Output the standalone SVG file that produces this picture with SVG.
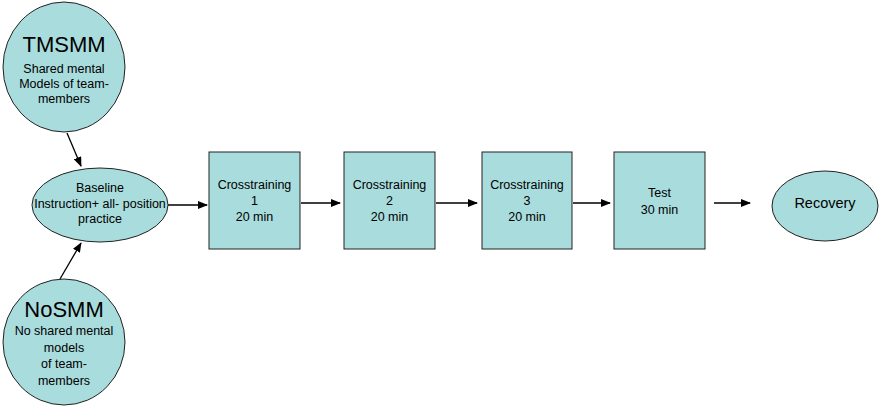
<svg xmlns="http://www.w3.org/2000/svg" width="879" height="406" viewBox="0 0 879 406">
<defs>
<marker id="ah" markerWidth="10" markerHeight="8" refX="9" refY="4" orient="auto" markerUnits="userSpaceOnUse">
<path d="M0,0 L10,4 L0,8 Z" fill="#000"/>
</marker>
<style>
.n{fill:#a9dcdc;stroke:#222;stroke-width:1}
.t{font-family:"Liberation Sans",Arial,sans-serif;font-size:12.5px;fill:#000;text-anchor:middle}
.big{font-size:22px}
.rec{font-size:14.5px}
.c{stroke:#000;stroke-width:1.3;fill:none;marker-end:url(#ah)}
</style>
</defs>
<rect width="879" height="406" fill="#fff"/>
<g id="connectors">
<line class="c" x1="67" y1="133" x2="81" y2="166"/>
<line class="c" x1="60" y1="279" x2="81" y2="243"/>
<line class="c" x1="168" y1="205" x2="207" y2="205"/>
<line class="c" x1="301" y1="203" x2="340" y2="203"/>
<line class="c" x1="436" y1="203" x2="477" y2="203"/>
<line class="c" x1="573" y1="203" x2="610" y2="203"/>
<line class="c" x1="714" y1="203" x2="750" y2="203"/>
</g>
<g id="tmsmm">
<ellipse class="n" cx="64" cy="67" rx="61" ry="65"/>
<text class="t big" x="64" y="52">TMSMM</text>
<text class="t" x="64" y="73">Shared mental</text>
<text class="t" x="64" y="88">Models of team-</text>
<text class="t" x="64" y="103">members</text>
</g>
<g id="baseline">
<ellipse class="n" cx="100" cy="205" rx="68" ry="37"/>
<text class="t" x="100" y="192">Baseline</text>
<text class="t" x="100" y="208">Instruction+ all- position</text>
<text class="t" x="100" y="223">practice</text>
</g>
<g id="nosmm">
<ellipse class="n" cx="64" cy="342" rx="61" ry="63"/>
<text class="t big" x="64" y="317">NoSMM</text>
<text class="t" x="64" y="335">No shared mental</text>
<text class="t" x="64" y="352">models</text>
<text class="t" x="64" y="368">of team-</text>
<text class="t" x="64" y="385">members</text>
</g>
<g id="cross1">
<rect class="n" x="209" y="152" width="91" height="97"/>
<text class="t" x="254.5" y="189">Crosstraining</text>
<text class="t" x="254.5" y="205">1</text>
<text class="t" x="254.5" y="221">20 min</text>
</g>
<g id="cross2">
<rect class="n" x="344" y="152" width="91" height="97"/>
<text class="t" x="389.5" y="189">Crosstraining</text>
<text class="t" x="389.5" y="205">2</text>
<text class="t" x="389.5" y="221">20 min</text>
</g>
<g id="cross3">
<rect class="n" x="482" y="152" width="90" height="97"/>
<text class="t" x="527" y="189">Crosstraining</text>
<text class="t" x="527" y="205">3</text>
<text class="t" x="527" y="221">20 min</text>
</g>
<g id="test">
<rect class="n" x="614" y="152" width="91" height="97"/>
<text class="t" x="659.5" y="197">Test</text>
<text class="t" x="659.5" y="214">30 min</text>
</g>
<g id="recovery">
<ellipse class="n" cx="825" cy="206" rx="53" ry="35"/>
<text class="t rec" x="825" y="208">Recovery</text>
</g>
</svg>
